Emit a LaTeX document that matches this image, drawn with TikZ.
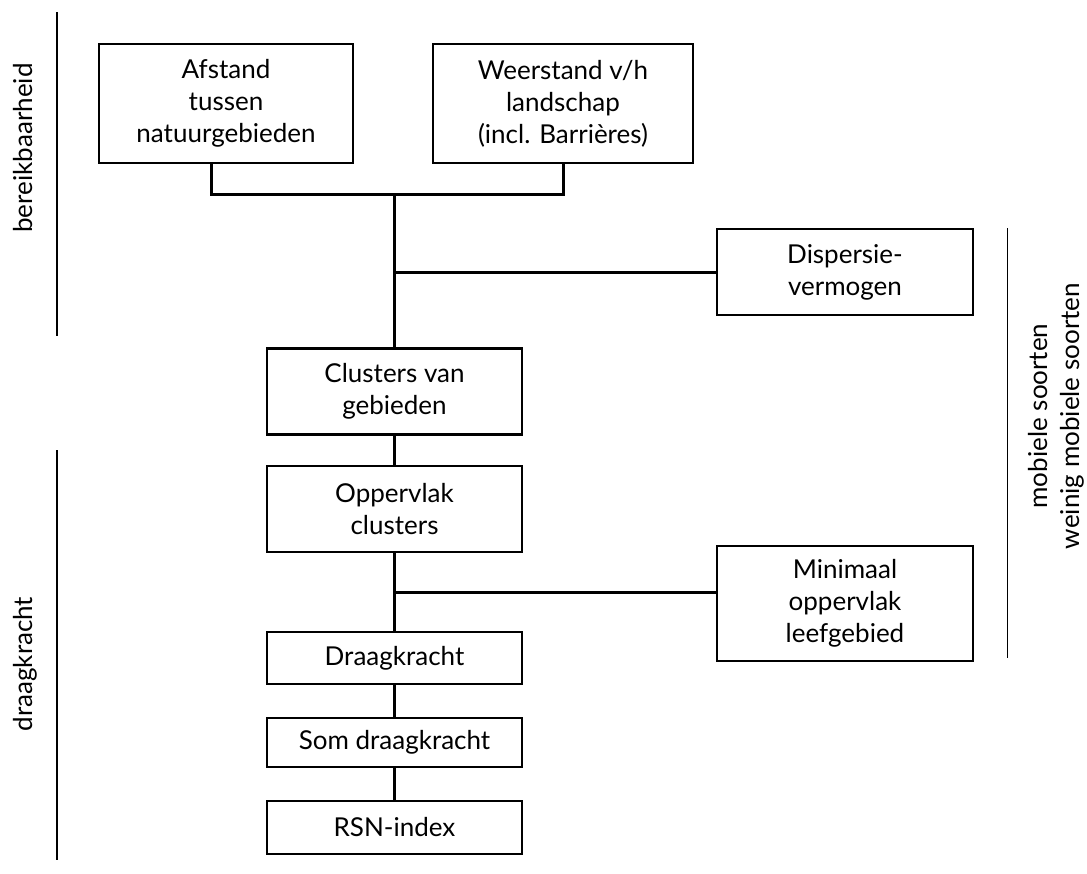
\documentclass[tikz,border=0pt]{standalone}
\usepackage{fontspec}
\setmainfont{Lato}
\usepackage{tikz}

\begin{document}
\begin{tikzpicture}[x=0.5pt, y=-0.5pt, every node/.style={font=\fontsize{13}{16}\selectfont},
                    box/.style={draw, line width=1.2pt, align=center, inner sep=0pt,
                            minimum width=127.5pt, minimum height=#1*0.5pt},
                    box/.default=86,
                    link/.style={line width=1.5pt},
                    side/.style={rotate=90, align=center}]
                \useasboundingbox (0,0) rectangle (1087,873);

                % top row
                \node[box=119, minimum width=127pt] (afstand)   at (226,103.5) {Afstand\\tussen\\natuurgebieden};
                \node[box=119, minimum width=130pt] (weerstand) at (563,103.5) {Weerstand v/h\\landschap\\(incl. Barrières)};
                \node[box, minimum width=128pt]     (dispersie) at (845,272)   {Dispersie-\\vermogen};
                \node[box=115, minimum width=128pt] (minimaal)  at (845,603.5) {Minimaal\\oppervlak\\leefgebied};

                % middle column
                \node[box]      (clusters)    at (394.5,391.5) {Clusters van\\gebieden};
                \node[box]      (oppervlak)   at (394.5,509)   {Oppervlak\\clusters};
                \node[box=52]   (draagkracht) at (394.5,658)   {Draagkracht};
                \node[box=49]   (som)         at (394.5,742.5) {Som draagkracht};
                \node[box=53]   (rsn)         at (394.5,827.5) {RSN-index};

                \coordinate (ja) at (211,194);
                \coordinate (jb) at (394.5,592);

                \draw[link] (afstand.south -| ja) -- (ja) -- (weerstand.south |- ja) -- (weerstand.south);
                \draw[link] (clusters.north |- ja) -- (clusters.north);
                \draw[link] (clusters.north |- dispersie.west) -- (dispersie.west);
                \draw[link] (jb) -- (minimaal.west |- jb);
                \foreach \a/\b in {clusters/oppervlak, oppervlak/draagkracht, draagkracht/som, som/rsn} {
                        \draw[link] (\a) -- (\b);
                    }

                % side bars
                \coordinate (b1) at (57,12);
                \coordinate (b2) at (57,336);
                \coordinate (b3) at (57,450);
                \coordinate (b4) at (57,860);
                \coordinate (b5) at (1007,228);
                \coordinate (b6) at (1007,658);
                \draw[line width=1pt] (b1) -- (b2);
                \draw[line width=1pt] (b3) -- (b4);
                \draw[line width=0.5pt] (b5) -- (b6);

                \node[side] (bereik) at (23,148)  {bereikbaarheid};
                \node[side] (draag)  at (25,664)  {draagkracht};
                \node[side] (soort)  at (1056,416) {mobiele soorten\\weinig mobiele soorten};
            \end{tikzpicture}
\end{document}
